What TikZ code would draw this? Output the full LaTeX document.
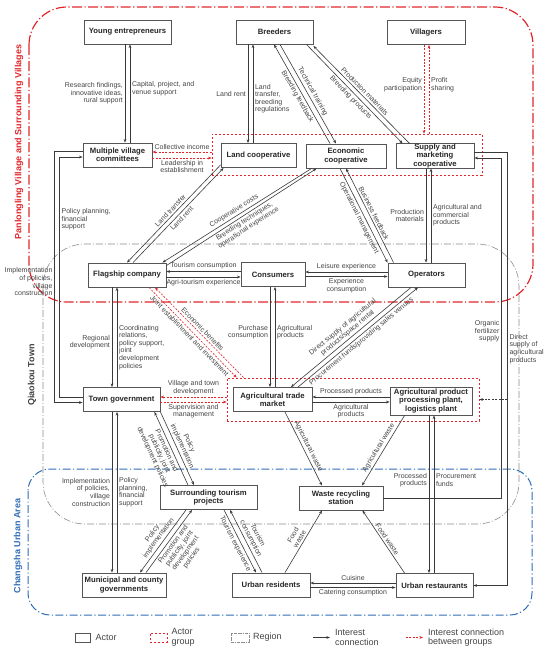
\documentclass[tikz,border=0pt]{standalone}
\usepackage{fontspec}
\setmainfont{Liberation Sans}
\usetikzlibrary{arrows.meta}
\definecolor{boxgray}{HTML}{555555}
\definecolor{linegray}{HTML}{3A3A3A}
\definecolor{txtgray}{HTML}{444444}
\definecolor{regred}{HTML}{E0262B}
\definecolor{regblue}{HTML}{2F6DB5}
\definecolor{reggray}{HTML}{8C8C8C}
\tikzset{
    actor/.style={draw=boxgray, fill=white, line width=0.9pt, inner sep=0.3pt,
    	minimum height=24pt, align=center, text=black!85,
    	font=\bfseries\fontsize{7.7}{8.2}\selectfont}
}
\tikzset{
    actorgroup/.style={draw=regred, line width=0.8pt, dash pattern=on 2.4pt off 1.6pt}
}
\tikzset{
    link/.style={draw=linegray, line width=0.6pt, -{Stealth[length=3.6pt,width=2.8pt]}},
    grouplink/.style={link, draw=regred, dash pattern=on 2pt off 1.4pt}
}
\tikzset{
    villagearea/.style={draw=regred, line width=1.2pt, rounded corners=38pt,
    	dash pattern=on 10pt off 2.5pt on 1.2pt off 2.5pt},
    townarea/.style={draw=reggray, line width=0.6pt, rounded corners=42pt,
    	dash pattern=on 7pt off 2pt on 1pt off 2pt},
    cityarea/.style={draw=regblue, line width=1pt, rounded corners=22pt,
    	dash pattern=on 8pt off 2.5pt on 1.2pt off 2.5pt}
}
\tikzset{
    lbl/.style={font=\fontsize{7}{7.6}\selectfont, text=txtgray, inner sep=1.8pt},
    keytext/.style={font=\fontsize{9}{9.5}\selectfont, text=txtgray, inner sep=1pt,
    	anchor=west, align=left},
    arealabel/.style={rotate=90, font=\bfseries\fontsize{9}{9}\selectfont, inner sep=0pt}
}

\begin{document}
\begin{tikzpicture}[x=1pt, y=-1pt]
	\useasboundingbox (0,0) rectangle (550,654);

	\draw[villagearea] (29,7) rectangle (533,302);
	\draw[townarea] (43,244) rectangle (519,524);
	\draw[cityarea] (28,469) rectangle (532,615);
	\node (villagelab) [arealabel, text=regred] at (19,142) {Panlongling Village and Surrounding Villages};
	\node (townlab) [arealabel, text=black!75] at (32,375) {Qiaokou Town};
	\node (citylab) [arealabel, text=regblue] at (18,546) {Changsha Urban Area};

	\node (coopgroup) [actorgroup, minimum width=270pt, minimum height=41pt] at (347,154.5) {};
	\node (tradegroup) [actorgroup, minimum width=252pt, minimum height=43pt] at (353,399.5) {};

	\node (youth) [actor, minimum width=87pt] at (127.5,32) {Young entrepreneurs};
	\node (breeders) [actor, minimum width=77pt] at (274.5,32) {Breeders};
	\node (villagers) [actor, minimum width=78pt] at (426,32.5) {Villagers};
	\node (committees) [actor, minimum width=69pt] at (117.5,155) {Multiple village\\committees};
	\node (landcoop) [actor, minimum width=75pt] at (258.5,155.5) {Land cooperative};
	\node (econcoop) [actor, minimum width=80pt] at (346,156) {Economic\\cooperative};
	\node (supply) [actor, minimum width=78pt] at (435,156) {Supply and\\marketing\\cooperative};
	\node (flagship) [actor, minimum width=78pt] at (127,275) {Flagship company};
	\node (consumers) [actor, minimum width=64pt] at (273,274.5) {Consumers};
	\node (operators) [actor, minimum width=77pt] at (426.5,275) {Operators};
	\node (towngov) [actor, minimum width=77pt] at (121.5,399.5) {Town government};
	\node (market) [actor, minimum width=79pt] at (272.5,399.5) {Agricultural trade\\market};
	\node (plant) [actor, minimum width=82pt, minimum height=28pt] at (431,401) {Agricultural product\\processing plant,\\logistics plant};
	\node (tourism) [actor, minimum width=97pt] at (208.5,497.5) {Surrounding tourism\\projects};
	\node (station) [actor, minimum width=84pt] at (341,498) {Waste recycling\\station};
	\node (municipal) [actor, minimum width=84pt] at (124,585) {Municipal and county\\governments};
	\node (residents) [actor, minimum width=78pt] at (271,585) {Urban residents};
	\node (restaurants) [actor, minimum width=77pt] at (434.5,585.5) {Urban restaurants};

	% villages
	\draw[link] ([xshift=-2.5pt]youth.south) -- ([xshift=-2.5pt]youth.south |- committees.north)
		node[lbl, left, align=right, midway] {Research findings,\\innovative ideas,\\rural support};
	\draw[link] ([xshift=2.5pt]youth.south |- committees.north) -- ([xshift=2.5pt]youth.south)
		node[lbl, right, align=left, pos=.55] {Capital, project, and\\venue support};
	\draw[link] ([xshift=-26.5pt]breeders.south) -- ([xshift=-26.5pt]breeders.south |- landcoop.north)
		node[lbl, left, midway] {Land rent};
	\draw[link] ([xshift=-21.5pt]breeders.south |- landcoop.north) -- ([xshift=-21.5pt]breeders.south)
		node[lbl, right, align=left, pos=.45] {Land\\transfer,\\breeding\\regulations};
	\draw[link] ([xshift=-16pt]econcoop.north) -- ([xshift=-0.5pt]breeders.south)
		node[lbl, sloped, below, midway] {Breeding feedback};
	\draw[link] ([xshift=5.5pt]breeders.south) -- ([xshift=-10pt]econcoop.north)
		node[lbl, sloped, above, midway] {Technical training};
	\draw[link] ([xshift=14pt]supply.north west) -- ([yshift=-1.5pt]breeders.south east)
		node[lbl, sloped, above, midway] {Production materials};
	\draw[link] ([xshift=-7pt]breeders.south east) -- ([xshift=7pt]supply.north west)
		node[lbl, sloped, below, midway] {Breeding products};
	\draw[grouplink] ([xshift=-2pt]villagers.south) -- ([xshift=-2pt]villagers.south |- coopgroup.north)
		node[lbl, left, align=right, pos=.45] {Equity\\participation};
	\draw[grouplink] ([xshift=3pt]villagers.south |- coopgroup.north) -- ([xshift=3pt]villagers.south)
		node[lbl, right, align=left, pos=.55] {Profit\\sharing};
	\draw[grouplink] ([yshift=3pt]committees.east -| coopgroup.west) -- ([yshift=3pt]committees.east)
		node[lbl, above, midway] {Collective income};
	\draw[grouplink] ([yshift=-3pt]committees.east) -- ([yshift=-3pt]committees.east -| coopgroup.west)
		node[lbl, below, align=center, midway] {Leadership in\\establishment};

	\draw[link] ([yshift=3pt]landcoop.south west) -- (flagship.north)
		node[lbl, sloped, above, midway] {Land transfer};
	\draw[link] ([xshift=6pt]flagship.north) -- ([xshift=3pt]landcoop.south west)
		node[lbl, sloped, below, midway] {Land rent};
	\draw[link] ([xshift=6pt]econcoop.south west) -- ([xshift=-4pt]flagship.north east)
		node[lbl, sloped, above, midway] {Cooperative costs};
	\draw[link] ([yshift=-3pt]flagship.north east) -- ([xshift=11pt]econcoop.south west)
		node[lbl, sloped, below, align=center, midway] {Breeding techniques,\\operational experience};
	\draw[link] ([xshift=-6pt]econcoop.south) -- (operators.north west)
		node[lbl, sloped, below, midway] {Operational management};
	\draw[link] ([xshift=6pt]operators.north west) -- (econcoop.south)
		node[lbl, sloped, above, midway] {Business feedback};
	\draw[link] ([xshift=-9pt]supply.south) -- ([xshift=-9pt]supply.south |- operators.north)
		node[lbl, left, align=right, midway] {Production\\materials};
	\draw[link] ([xshift=-4pt]supply.south |- operators.north) -- ([xshift=-4pt]supply.south)
		node[lbl, right, align=left, midway] {Agricultural and\\commercial\\products};

	% town
	\draw[link] ([yshift=3pt]consumers.west) -- ([yshift=3pt]consumers.west -| flagship.east)
		node[lbl, above, midway] {Tourism consumption};
	\draw[link] ([yshift=-2pt]flagship.east) -- ([yshift=-2pt]flagship.east -| consumers.west)
		node[lbl, below, midway] {Agri-tourism experience};
	\draw[link] ([yshift=3pt]operators.west) -- ([yshift=3pt]operators.west -| consumers.east)
		node[lbl, above, midway] {Leisure experience};
	\draw[link] ([yshift=-2pt]consumers.east) -- ([yshift=-2pt]consumers.east -| operators.west)
		node[lbl, below, align=center, midway] {Experience\\consumption};
	\draw[link] ([xshift=-15pt]flagship.south) -- ([xshift=-15pt]flagship.south |- towngov.north)
		node[lbl, left, align=right, pos=.55] {Regional\\development};
	\draw[link] ([xshift=-10pt]flagship.south |- towngov.north) -- ([xshift=-10pt]flagship.south)
		node[lbl, right, align=left, pos=.4] {Coordinating\\relations,\\policy support,\\joint\\development\\policies};
	\draw[grouplink] ([xshift=22pt]flagship.south) -- ([xshift=10pt]tradegroup.north west)
		node[lbl, sloped, below, midway] {Joint establishment and investment};
	\draw[grouplink] ([xshift=17pt]tradegroup.north west) -- ([xshift=28pt]flagship.south)
		node[lbl, sloped, above, midway] {Economic benefits};
	\draw[link] ([xshift=-3pt]consumers.south) -- ([xshift=-3pt]consumers.south |- market.north)
		node[lbl, left, align=right, pos=.45] {Purchase\\consumption};
	\draw[link] ([xshift=2pt]consumers.south |- market.north) -- ([xshift=2pt]consumers.south)
		node[lbl, right, align=left, pos=.55] {Agricultural\\products};
	\draw[link] ([xshift=-15.5pt]operators.south) -- ([xshift=18.5pt]market.north)
		node[lbl, sloped, above, align=center, midway] {Direct supply of agricultural\\products/space rental};
	\draw[link] ([xshift=25.5pt]market.north) -- ([xshift=-8.5pt]operators.south)
		node[lbl, sloped, below, midway] {Procurement funds/providing sales venues};
	\draw[grouplink] ([yshift=2.5pt]towngov.east -| tradegroup.west) -- ([yshift=2.5pt]towngov.east)
		node[lbl, above, align=center, midway] {Village and town\\development};
	\draw[grouplink] ([yshift=-2.5pt]towngov.east) -- ([yshift=-2.5pt]towngov.east -| tradegroup.west)
		node[lbl, below, align=center, midway] {Supervision and\\management};
	\draw[link] ([yshift=2.5pt]market.east -| plant.west) -- ([yshift=2.5pt]market.east)
		node[lbl, above, midway] {Processed products};
	\draw[link] ([yshift=-2.5pt]market.east) -- ([yshift=-2.5pt]market.east -| plant.west)
		node[lbl, below, align=center, midway] {Agricultural\\products};

	% left side
	\draw[link] ([yshift=2.5pt]towngov.west) -- ++(-23pt,0) |- ([yshift=-2pt]committees.west)
		node[lbl, right, align=left, pos=.37] {Policy planning,\\financial\\support};
	\draw[link] ([yshift=4pt]committees.west) -- ++(-28pt,0) |- ([yshift=-3pt]towngov.west)
		node[lbl, left, align=right, pos=.26] {Implementation\\of policies,\\village\\construction};

	% right side
	\draw[link] (station.east) -- ++(118pt,0) |- ([yshift=-2pt]supply.east)
		node[lbl, left, align=right, pos=.245] {Organic\\fertilizer\\supply};
	\draw[link] ([yshift=4pt]supply.east) -- ++(33pt,0) coordinate (dcorner) |- (restaurants.east)
		node[lbl, right, align=left, pos=.227] {Direct\\supply of\\agricultural\\products};
	\coordinate (dsupply) at (dcorner |- tradegroup.east);
	\draw[link, dash pattern=on 2pt off 1.4pt] (dsupply) -- (tradegroup.east);

	% city
	\draw[link] ([xshift=12.5pt]market.south) -- ([xshift=-19pt]station.north)
		node[lbl, sloped, above, midway] {Agricultural waste};
	\draw[link] ([xshift=15pt]plant.south west) -- ([xshift=21pt]station.north)
		node[lbl, sloped, above, midway] {Agricultural waste};
	\draw[link] ([xshift=-2pt]plant.south) -- ([xshift=-2pt]plant.south |- restaurants.north)
		node[lbl, left, align=right, pos=.41] {Processed\\products};
	\draw[link] ([xshift=3pt]plant.south |- restaurants.north) -- ([xshift=3pt]plant.south)
		node[lbl, right, align=left, pos=.59] {Procurement\\funds};
	\draw[link] ([xshift=-9.5pt]towngov.south) -- ([xshift=-9.5pt]towngov.south |- municipal.north)
		node[lbl, left, align=right, midway] {Implementation\\of policies,\\village\\construction};
	\draw[link] ([xshift=-4.5pt]towngov.south |- municipal.north) -- ([xshift=-4.5pt]towngov.south)
		node[lbl, right, align=left, midway] {Policy\\planning,\\financial\\support};
	\draw[link] ([xshift=-20.5pt]tourism.north) -- ([xshift=-6pt]towngov.south east)
		node[lbl, sloped, below, align=center, midway] {Promotion and\\publicity, joint\\development policies};
	\draw[link] (towngov.south east) -- ([xshift=-14.5pt]tourism.north)
		node[lbl, sloped, above, align=center, midway] {Policy\\implementation};
	\draw[link] ([xshift=-22.5pt]tourism.south) -- ([xshift=16pt]municipal.north)
		node[lbl, sloped, above, align=center, midway] {Policy\\implementation};
	\draw[link] ([xshift=22pt]municipal.north) -- ([xshift=-16.5pt]tourism.south)
		node[lbl, sloped, below, align=center, midway] {Promotion and\\publicity, joint\\development\\policies};
	\draw[link] ([xshift=15.5pt]tourism.south) -- ([xshift=-15pt]residents.north)
		node[lbl, sloped, below, midway] {Tourism experience};
	\draw[link] ([xshift=-9pt]residents.north) -- ([xshift=21.5pt]tourism.south)
		node[lbl, sloped, above, align=center, midway] {Tourism\\consumption};
	\draw[link] ([xshift=14pt]residents.north) -- ([xshift=-19pt]station.south)
		node[lbl, sloped, above, align=center, midway] {Food\\waste};
	\draw[link] ([xshift=9pt]restaurants.north west) -- ([xshift=-21pt]station.south east)
		node[lbl, sloped, above, midway] {Food waste};
	\draw[link] ([yshift=2.5pt]restaurants.west) -- ([yshift=2.5pt]restaurants.west -| residents.east)
		node[lbl, above, midway] {Cuisine};
	\draw[link] ([yshift=-2.5pt]residents.east) -- ([yshift=-2.5pt]residents.east -| restaurants.west)
		node[lbl, below, midway] {Catering consumption};

	% legend
	\node (keyactor) [draw=boxgray, line width=0.9pt, minimum width=15.5pt, minimum height=9pt, inner sep=0pt] at (83,637.5) {};
	\node (keyactortxt) [keytext] at (94.5,637.5) {Actor};
	\node (keygroup) [actorgroup, minimum width=17pt, minimum height=9pt, inner sep=0pt] at (158.5,637.5) {};
	\node (keygrouptxt) [keytext] at (170.5,637.5) {Actor\\group};
	\node (keyarea) [draw=reggray, line width=0.6pt, dash pattern=on 3pt off 1pt on 0.6pt off 1pt,
		minimum width=18pt, minimum height=9pt, inner sep=0pt] at (240,637.5) {};
	\node (keyareatxt) [keytext] at (252,637.5) {Region};
	\coordinate (keyfrom) at (313,637.5);
	\coordinate (keyto) at (330,637.5);
	\draw[link] (keyfrom) -- (keyto);
	\node (keylinktxt) [keytext] at (334,637.5) {Interest\\connection};
	\coordinate (keygfrom) at (406,637.5);
	\coordinate (keygto) at (423,637.5);
	\draw[grouplink] (keygfrom) -- (keygto);
	\node (keyglinktxt) [keytext] at (427,637.5) {Interest connection\\between groups};
\end{tikzpicture}
\end{document}
